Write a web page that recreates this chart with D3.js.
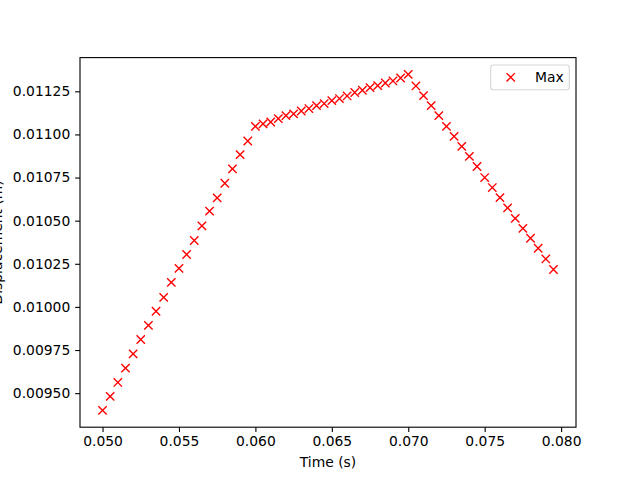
<!DOCTYPE html>
<html>
<head>
<meta charset="utf-8">
<script src="https://cdn.jsdelivr.net/npm/d3@7"></script>
<style>
  body { margin: 0; background: #fff; }
  svg { display: block; }
  text { font-family: "DejaVu Sans", sans-serif; }
</style>
</head>
<body>
<div id="chart"></div>
<script>
// ---- data ----
const times = [
  0.0500, 0.0505, 0.0510, 0.0515, 0.0520, 0.0525, 0.0530, 0.0535, 0.0540, 0.0545,
  0.0550, 0.0555, 0.0560, 0.0565, 0.0570, 0.0575, 0.0580, 0.0585, 0.0590, 0.0595,
  0.0600, 0.0605, 0.0610, 0.0615, 0.0620, 0.0625, 0.0630, 0.0635, 0.0640, 0.0645,
  0.0650, 0.0655, 0.0660, 0.0665, 0.0670, 0.0675, 0.0680, 0.0685, 0.0690, 0.0695,
  0.0700, 0.0705, 0.0710, 0.0715, 0.0720, 0.0725, 0.0730, 0.0735, 0.0740, 0.0745,
  0.0750, 0.0755, 0.0760, 0.0765, 0.0770, 0.0775, 0.0780, 0.0785, 0.0790, 0.0795
];
const maxDisplacement = [
  0.009400, 0.009481, 0.009562, 0.009645, 0.009728, 0.009811, 0.009893, 0.009975, 0.010055, 0.010142,
  0.010223, 0.010304, 0.010385, 0.010470, 0.010555, 0.010632, 0.010717, 0.010800, 0.010883, 0.010962,
  0.011047, 0.011061, 0.011072, 0.011092, 0.011109, 0.011119, 0.011136, 0.011150, 0.011167, 0.011179,
  0.011196, 0.011208, 0.011223, 0.011243, 0.011256, 0.011271, 0.011283, 0.011298, 0.011310, 0.011327,
  0.011348, 0.011281, 0.011225, 0.011167, 0.011109, 0.011047, 0.010989, 0.010931, 0.010873, 0.010814,
  0.010750, 0.010692, 0.010634, 0.010574, 0.010513, 0.010455, 0.010398, 0.010340, 0.010278, 0.010217
];
const xTicks = [0.050, 0.055, 0.060, 0.065, 0.070, 0.075, 0.080];
const yTicks = [0.00950, 0.00975, 0.01000, 0.01025, 0.01050, 0.01075, 0.01100, 0.01125];
const seriesName = "Max";
const xLabel = "Time (s)";
const yLabel = "Displacement (m)";

// ---- layout ----
const W = 640, H = 480;
const axL = 80, axR = 576, axT = 57.6, axB = 427.2;
const fs = 13.89;

const svg = d3.select("#chart").append("svg").attr("width", W).attr("height", H);

function padded(ext) {
  const r = ext[1] - ext[0];
  return [ext[0] - 0.05 * r, ext[1] + 0.05 * r];
}
const x = d3.scaleLinear().domain(padded(d3.extent(times))).range([axL, axR]);
const y = d3.scaleLinear().domain(padded(d3.extent(maxDisplacement))).range([axB, axT]);

const data = times.map((t, i) => ({ t, v: maxDisplacement[i] }));

// axes
const xAxis = d3.axisBottom(x).tickValues(xTicks).tickFormat(d3.format(".3f"))
  .tickSize(4.86).tickPadding(4.4).tickSizeOuter(0);
const yAxis = d3.axisLeft(y).tickValues(yTicks).tickFormat(d3.format(".5f"))
  .tickSize(4.86).tickPadding(4.9).tickSizeOuter(0);

const gx = svg.append("g").attr("transform", `translate(0,${axB})`).call(xAxis);
const gy = svg.append("g").attr("transform", `translate(${axL},0)`).call(yAxis);
[gx, gy].forEach(g => {
  g.select(".domain").remove();
  g.selectAll(".tick line").attr("stroke", "#000").attr("stroke-width", 1.11);
  g.selectAll(".tick text").attr("fill", "#000").style("font-size", fs + "px")
    .style("font-family", '"DejaVu Sans", sans-serif');
});

// frame
svg.append("rect").attr("x", axL).attr("y", axT)
  .attr("width", axR - axL).attr("height", axB - axT)
  .attr("fill", "none").attr("stroke", "#000").attr("stroke-width", 1.11);

// markers
const h = 4.17;
const mk = `M${-h},${-h}L${h},${h}M${-h},${h}L${h},${-h}`;
svg.append("g").selectAll("path").data(data).join("path")
  .attr("transform", d => `translate(${x(d.t)},${y(d.v)})`)
  .attr("d", mk).attr("fill", "none").attr("stroke", "#ff0000").attr("stroke-width", 1.39);

// labels
svg.append("text").attr("x", (axL + axR) / 2).attr("y", 466.5)
  .attr("text-anchor", "middle").style("font-size", fs + "px").text(xLabel);
svg.append("text").attr("transform", `translate(2,${(axT + axB) / 2}) rotate(-90)`)
  .attr("text-anchor", "middle").style("font-size", fs + "px").text(yLabel);

// legend
const lg = svg.append("g");
lg.append("rect").attr("x", 490.7).attr("y", 65).attr("width", 78.6).attr("height", 24.7)
  .attr("rx", 2.8).attr("fill", "#fff").attr("fill-opacity", 0.8)
  .attr("stroke", "#cccccc").attr("stroke-opacity", 0.8).attr("stroke-width", 1.11);
lg.append("path").attr("transform", "translate(510.7,77.3)").attr("d", mk)
  .attr("fill", "none").attr("stroke", "#ff0000").attr("stroke-width", 1.39);
lg.append("text").attr("x", 535).attr("y", 81.7).style("font-size", fs + "px").text(seriesName);
</script>
</body>
</html>
